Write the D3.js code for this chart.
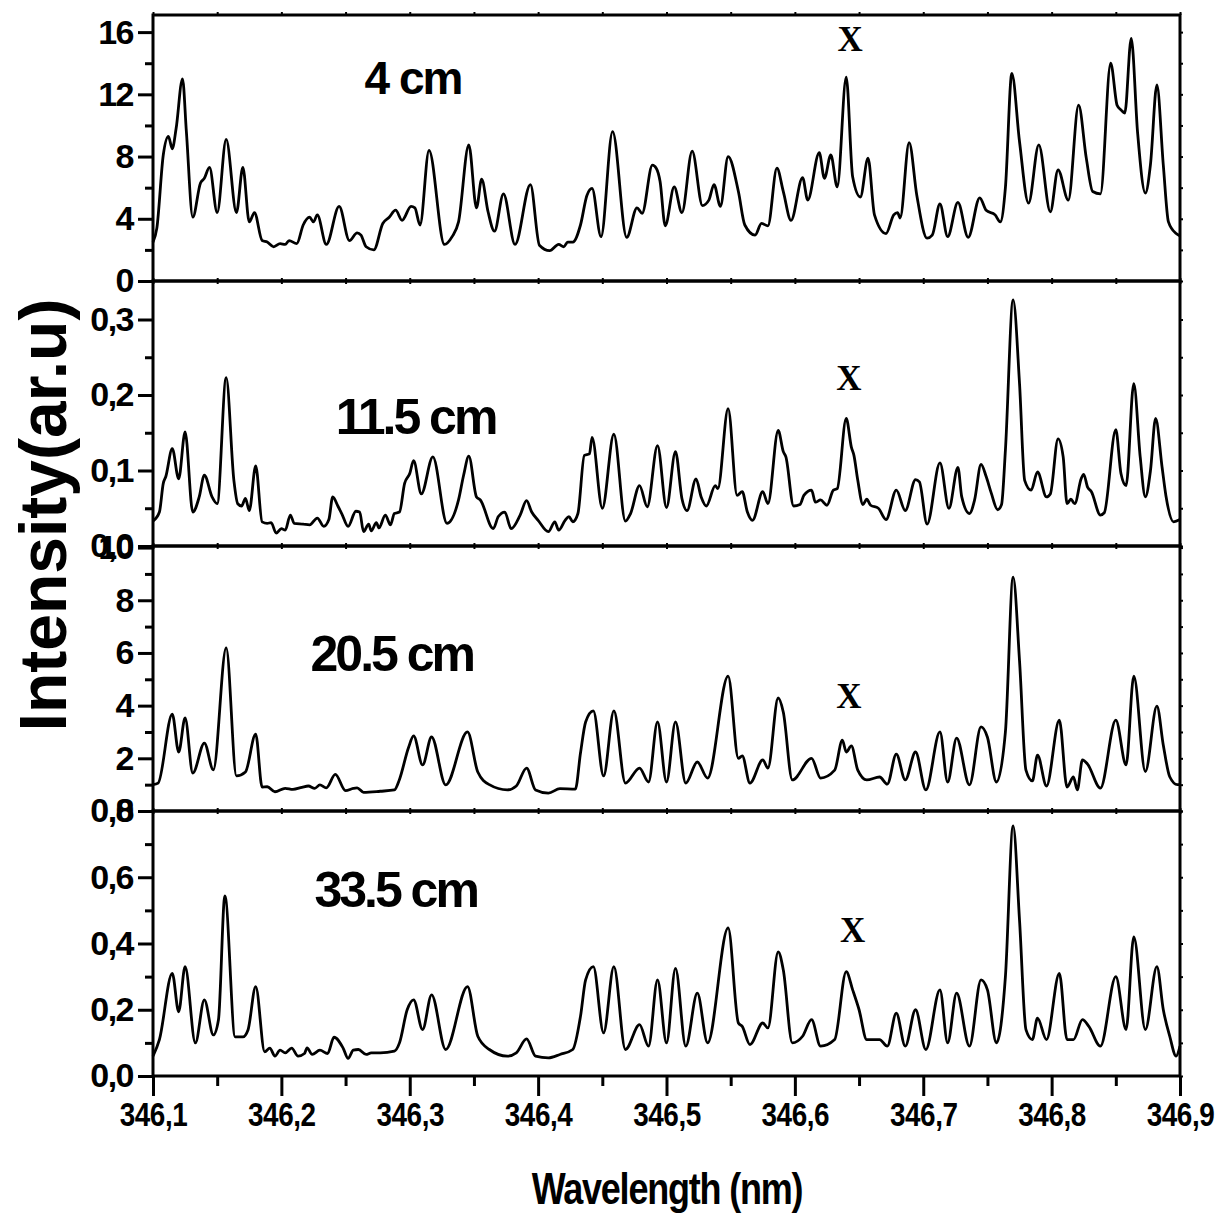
<!DOCTYPE html>
<html><head><meta charset="utf-8">
<script src="https://cdn.jsdelivr.net/npm/d3@7"></script>
<style>body{margin:0;background:#fff}svg{display:block}</style>
</head><body>
<svg id="chart" width="1226" height="1216"></svg>
<script>
// ---------------- DATA ----------------
const xTickValues = [346.1,346.2,346.3,346.4,346.5,346.6,346.7,346.8,346.9];
const panelLabels = ["4 cm","11.5 cm","20.5 cm","33.5 cm"];

// Panel 1: 4 cm
const wl4 = [346.100,346.103,346.108,346.112,346.115,346.118,346.123,346.126,346.131,346.137,346.140,346.144,346.150,346.157,346.165,346.170,346.175,346.179,346.185,346.189,346.194,346.199,346.203,346.206,346.212,346.217,346.222,346.225,346.228,346.235,346.245,346.253,346.259,346.262,346.266,346.272,346.279,346.284,346.289,346.294,346.301,346.304,346.308,346.315,346.327,346.333,346.338,346.346,346.352,346.356,346.361,346.366,346.373,346.382,346.394,346.401,346.409,346.416,346.420,346.423,346.427,346.433,346.438,346.442,346.449,346.458,346.469,346.477,346.481,346.489,346.492,346.495,346.499,346.506,346.512,346.520,346.528,346.533,346.537,346.542,346.548,346.556,346.561,346.569,346.574,346.579,346.586,346.591,346.597,346.606,346.610,346.619,346.623,346.628,346.633,346.640,346.645,346.651,346.657,346.662,346.671,346.677,346.680,346.682,346.689,346.695,346.703,346.707,346.713,346.719,346.727,346.735,346.744,346.749,346.756,346.760,346.764,346.769,346.775,346.782,346.790,346.799,346.805,346.813,346.821,346.827,346.832,346.838,346.846,346.851,346.854,346.857,346.862,346.867,346.873,346.877,346.882,346.887,346.891,346.897,346.900];
const int4 = [2.5,3.4,8.1,9.3,8.5,9.8,13.0,9.6,4.1,6.3,6.6,7.3,4.4,9.1,4.4,7.3,3.8,4.4,2.6,2.5,2.2,2.4,2.35,2.6,2.4,3.6,4.1,3.8,4.25,2.35,4.8,2.6,3.1,2.95,2.2,2.0,3.7,4.1,4.55,3.9,4.8,4.7,3.6,8.4,2.35,2.85,3.8,8.75,4.7,6.55,4.45,3.2,5.6,2.35,6.2,2.3,1.95,2.35,2.2,2.5,2.5,3.6,5.5,5.95,2.85,9.6,2.8,4.7,4.35,7.45,7.25,6.4,3.55,6.05,4.4,8.35,4.85,5.2,6.2,4.8,8.0,5.75,3.6,2.95,3.7,3.55,7.25,5.75,3.9,6.65,5.2,8.25,6.6,8.1,6.05,13.1,6.7,5.4,7.9,4.25,3.05,4.25,4.4,4.05,8.9,5.5,2.75,2.95,4.95,2.85,5.05,2.8,5.35,4.55,4.25,3.8,6.0,13.35,8.95,5.0,8.75,4.45,7.15,5.2,11.3,7.9,5.75,5.6,14.0,11.3,11.0,10.8,15.6,9.5,5.65,7.5,12.6,7.45,3.8,3.05,2.9];

// Panel 2: 11.5 cm
const wl115 = [346.100,346.105,346.108,346.110,346.115,346.120,346.125,346.131,346.136,346.140,346.146,346.150,346.157,346.163,346.166,346.169,346.172,346.175,346.180,346.185,346.189,346.192,346.196,346.200,346.203,346.207,346.210,346.217,346.222,346.228,346.233,346.237,346.240,346.244,346.247,346.252,346.258,346.261,346.264,346.268,346.270,346.274,346.276,346.281,346.285,346.288,346.292,346.296,346.300,346.303,346.309,346.318,346.329,346.338,346.342,346.346,346.352,346.355,346.365,346.369,346.374,346.379,346.386,346.391,346.395,346.400,346.408,346.413,346.416,346.421,346.424,346.427,346.431,346.436,346.440,346.442,346.450,346.459,346.468,346.472,346.479,346.485,346.493,346.500,346.507,346.512,346.516,346.523,346.527,346.531,346.538,346.540,346.548,346.555,346.559,346.563,346.567,346.575,346.579,346.587,346.591,346.593,346.599,346.604,346.607,346.613,346.616,346.620,346.625,346.630,346.633,346.640,346.644,346.646,346.649,346.653,346.656,346.659,346.665,346.671,346.679,346.686,346.694,346.697,346.703,346.713,346.720,346.727,346.730,346.736,346.740,346.745,346.749,346.753,346.758,346.761,346.764,346.770,346.775,346.779,346.784,346.789,346.796,346.799,346.805,346.809,346.812,346.815,346.818,346.823,346.825,346.828,346.831,346.838,346.841,346.850,346.854,346.858,346.864,346.869,346.873,346.877,346.881,346.886,346.889,346.895,346.900];
const int115 = [0.033,0.045,0.083,0.092,0.129,0.089,0.151,0.045,0.065,0.094,0.065,0.056,0.223,0.087,0.056,0.053,0.063,0.047,0.106,0.032,0.030,0.031,0.017,0.023,0.021,0.041,0.030,0.029,0.028,0.037,0.026,0.035,0.065,0.053,0.043,0.026,0.046,0.045,0.019,0.029,0.020,0.031,0.024,0.041,0.028,0.043,0.045,0.083,0.096,0.113,0.069,0.118,0.030,0.061,0.094,0.119,0.065,0.061,0.023,0.039,0.045,0.023,0.041,0.060,0.045,0.034,0.019,0.032,0.021,0.034,0.039,0.032,0.043,0.120,0.122,0.144,0.050,0.148,0.033,0.043,0.080,0.052,0.133,0.051,0.125,0.063,0.047,0.089,0.065,0.053,0.080,0.076,0.182,0.067,0.072,0.045,0.034,0.072,0.056,0.153,0.125,0.118,0.053,0.055,0.067,0.074,0.058,0.061,0.054,0.074,0.076,0.169,0.131,0.120,0.087,0.055,0.062,0.054,0.050,0.035,0.074,0.047,0.088,0.085,0.029,0.110,0.050,0.104,0.065,0.043,0.061,0.108,0.092,0.070,0.048,0.055,0.127,0.326,0.215,0.087,0.074,0.098,0.065,0.069,0.142,0.118,0.056,0.062,0.056,0.089,0.095,0.078,0.072,0.041,0.044,0.154,0.096,0.080,0.215,0.118,0.065,0.100,0.169,0.105,0.067,0.032,0.035];

// Panel 3: 20.5 cm
const wl205 = [346.100,346.104,346.115,346.120,346.125,346.131,346.140,346.147,346.157,346.165,346.172,346.180,346.185,346.189,346.195,346.203,346.209,346.216,346.221,346.226,346.230,346.235,346.242,346.250,346.256,346.259,346.264,346.277,346.288,346.292,346.299,346.303,346.310,346.317,346.328,346.345,346.353,346.362,346.376,346.383,346.391,346.398,346.408,346.417,346.429,346.433,346.437,346.443,346.451,346.459,346.468,346.479,346.486,346.493,346.500,346.507,346.515,346.524,346.532,346.548,346.556,346.559,346.565,346.575,346.579,346.587,346.591,346.598,346.613,346.620,346.631,346.637,346.640,346.644,346.649,346.656,346.666,346.672,346.679,346.686,346.694,346.702,346.713,346.719,346.726,346.736,346.745,346.750,346.757,346.764,346.770,346.775,346.780,346.785,346.789,346.796,346.806,346.812,346.817,346.820,346.824,346.828,346.838,346.850,346.858,346.864,346.873,346.882,346.887,346.892,346.898,346.900];
const int205 = [1.0,1.06,3.68,2.24,3.53,1.44,2.58,1.56,6.19,1.33,1.48,2.92,0.91,0.92,0.73,0.86,0.82,0.9,0.95,0.86,0.99,0.88,1.39,0.77,0.86,0.88,0.71,0.75,0.8,1.2,2.4,2.85,1.75,2.81,0.99,3.0,1.48,1.0,0.8,0.95,1.63,0.8,0.68,0.85,0.83,2.2,3.38,3.8,1.33,3.8,1.06,1.63,1.1,3.38,1.1,3.38,1.06,1.86,1.25,5.12,2.0,2.09,1.06,1.94,1.63,4.29,3.75,1.18,2.0,1.25,1.55,2.69,2.24,2.47,1.55,1.18,1.29,1.02,2.16,1.18,2.24,0.8,3.0,1.1,2.77,0.99,3.19,2.8,1.1,3.0,8.88,5.7,1.55,1.14,2.12,0.95,3.45,0.91,1.29,0.8,1.94,1.78,0.87,3.45,1.75,5.12,1.5,3.98,2.5,1.3,1.0,1.0];

// Panel 4: 33.5 cm
const wl335 = [346.100,346.105,346.115,346.120,346.125,346.133,346.140,346.147,346.151,346.156,346.164,346.170,346.174,346.180,346.187,346.191,346.195,346.199,346.203,346.208,346.213,346.218,346.220,346.224,346.230,346.236,346.241,346.248,346.252,346.256,346.260,346.266,346.270,346.277,346.288,346.292,346.298,346.303,346.310,346.317,346.328,346.345,346.353,346.362,346.376,346.383,346.391,346.398,346.408,346.417,346.427,346.433,346.437,346.443,346.451,346.459,346.468,346.479,346.486,346.493,346.500,346.507,346.515,346.524,346.532,346.548,346.556,346.559,346.565,346.575,346.579,346.587,346.591,346.598,346.606,346.613,346.620,346.631,346.640,346.645,346.650,346.656,346.666,346.672,346.679,346.686,346.694,346.702,346.713,346.719,346.726,346.736,346.745,346.750,346.757,346.764,346.770,346.775,346.780,346.785,346.789,346.796,346.806,346.812,346.817,346.824,346.829,346.838,346.850,346.858,346.864,346.873,346.882,346.887,346.892,346.897,346.900];
const int335 = [0.06,0.11,0.31,0.194,0.33,0.10,0.23,0.124,0.17,0.544,0.118,0.118,0.139,0.27,0.073,0.084,0.06,0.078,0.07,0.084,0.06,0.068,0.085,0.065,0.078,0.068,0.117,0.085,0.053,0.078,0.08,0.065,0.07,0.07,0.075,0.1,0.2,0.23,0.14,0.245,0.08,0.27,0.12,0.08,0.06,0.07,0.112,0.06,0.055,0.065,0.08,0.18,0.29,0.33,0.13,0.33,0.08,0.155,0.09,0.29,0.1,0.325,0.09,0.25,0.1,0.447,0.16,0.15,0.095,0.16,0.145,0.375,0.32,0.1,0.12,0.17,0.09,0.11,0.315,0.26,0.2,0.11,0.11,0.09,0.19,0.09,0.2,0.08,0.26,0.1,0.25,0.09,0.29,0.26,0.1,0.3,0.755,0.47,0.14,0.11,0.175,0.11,0.31,0.11,0.11,0.17,0.15,0.09,0.3,0.14,0.42,0.14,0.33,0.2,0.12,0.06,0.09];

// Y axis ticks per panel
const yMajor4 = [0,4,8,12,16],        yMinor4 = [2,6,10,14];
const yMajor115 = [0,0.1,0.2,0.3],    yMinor115 = [0.05,0.15,0.25];
const yMajor205 = [0,2,4,6,8,10],     yMinor205 = [1,3,5,7,9];
const yMajor335 = [0,0.2,0.4,0.6,0.8],yMinor335 = [0.1,0.3,0.5,0.7];

// "X" marker positions (data units) and panel label anchors (data units)
const markWl  = [346.643,346.642,346.642,346.645];
const markVal = [15.5,0.222,4.33,0.44];
const labelWl  = [346.3025,346.3045,346.2860,346.2890];
const labelVal = [12.0,0.148,5.3,0.51];

// ---------------- LAYOUT ----------------
const svg = d3.select("#chart");
const left = 153, right = 1180;
const panels = [
  {wl: wl4,   val: int4,   top: 15,  bottom: 281,  dom:[0,17.1], major:yMajor4,   minor:yMinor4,   comma:false},
  {wl: wl115, val: int115, top: 281, bottom: 546,  dom:[0,0.351],major:yMajor115, minor:yMinor115, comma:true},
  {wl: wl205, val: int205, top: 546, bottom: 811,  dom:[0,10.06],major:yMajor205, minor:yMinor205, comma:false},
  {wl: wl335, val: int335, top: 811, bottom: 1076, dom:[0,0.8],  major:yMajor335, minor:yMinor335, comma:true}
];
const x = d3.scaleLinear().domain([346.1,346.9]).range([left,right]);
const xMinor = d3.range(0,8).map(i => 346.15 + i*0.1);
const fmtComma = d => d3.format(".1f")(d).replace(".", ",");
const fmtInt = d => d3.format("d")(d);
const tickFont = "'Liberation Sans', Arial, sans-serif";

panels.forEach((p, i) => {
  const y = d3.scaleLinear().domain(p.dom).range([p.bottom, p.top]);
  const g = svg.append("g");
  const pts = p.wl.map((w, k) => [w, p.val[k]]);
  g.append("path").datum(pts)
    .attr("fill","none").attr("stroke","#000").attr("stroke-width",2.8)
    .attr("stroke-linejoin","round")
    .attr("d", d3.line().x(d => x(d[0])).y(d => y(d[1])).curve(d3.curveMonotoneX));

  const ax = g.append("g").attr("transform",`translate(${left},0)`)
    .call(d3.axisLeft(y).tickValues(p.major).tickSize(15).tickPadding(5)
      .tickFormat(p.comma ? fmtComma : fmtInt));
  ax.select(".domain").remove();
  ax.selectAll(".tick line").attr("stroke","#000").attr("stroke-width",3);
  ax.selectAll(".tick text").attr("font-family",tickFont).attr("font-weight","bold")
    .attr("font-size",34).attr("letter-spacing","-1.5px").attr("fill","#000");
  const axm = g.append("g").attr("transform",`translate(${left},0)`)
    .call(d3.axisLeft(y).tickValues(p.minor).tickSize(8).tickFormat(""));
  axm.select(".domain").remove();
  axm.selectAll(".tick line").attr("stroke","#000").attr("stroke-width",3);
  const axr = g.append("g").attr("transform",`translate(${right},0)`)
    .call(d3.axisRight(y).tickValues(p.major.concat(p.minor)).tickSize(3).tickFormat(""));
  axr.select(".domain").remove();
  axr.selectAll(".tick line").attr("stroke","#000").attr("stroke-width",2);
  const axt = g.append("g").attr("transform",`translate(0,${p.top})`)
    .call(d3.axisTop(x).tickValues(xTickValues.concat(xMinor)).tickSize(3).tickFormat(""));
  axt.select(".domain").remove();
  axt.selectAll(".tick line").attr("stroke","#000").attr("stroke-width",2);
  if (i < 3) {
    const axb = g.append("g").attr("transform",`translate(0,${p.bottom})`)
      .call(d3.axisBottom(x).tickValues(xTickValues.concat(xMinor)).tickSize(3).tickFormat(""));
    axb.select(".domain").remove();
    axb.selectAll(".tick line").attr("stroke","#000").attr("stroke-width",2);
  }
  g.append("rect").attr("x",left).attr("y",p.top).attr("width",right-left).attr("height",p.bottom-p.top)
    .attr("fill","none").attr("stroke","#000").attr("stroke-width",3);

  g.append("text").attr("x",x(markWl[i])).attr("y",y(markVal[i]))
    .attr("text-anchor","middle").attr("dominant-baseline","central")
    .attr("font-family","'Liberation Serif','Times New Roman',serif").attr("font-weight","bold")
    .attr("font-size",35).text("X");
  g.append("text").attr("x",x(labelWl[i])).attr("y",y(labelVal[i]))
    .attr("text-anchor","middle")
    .attr("font-family",tickFont).attr("font-weight","bold")
    .attr("font-size", i === 0 ? 46 : 50).attr("letter-spacing", i === 0 ? "-2px" : "-3px")
    .text(panelLabels[i]);
});

const xb = svg.append("g").attr("transform",`translate(0,1076)`)
  .call(d3.axisBottom(x).tickValues(xTickValues).tickSize(20).tickPadding(6)
    .tickFormat(fmtComma));
xb.select(".domain").remove();
xb.selectAll(".tick line").attr("stroke","#000").attr("stroke-width",3);
xb.selectAll(".tick text").attr("font-family",tickFont).attr("font-weight","bold")
  .attr("font-size",34).attr("letter-spacing","-0.5px").attr("fill","#000")
  .attr("transform","scale(0.82,1)");
const xbm = svg.append("g").attr("transform",`translate(0,1076)`)
  .call(d3.axisBottom(x).tickValues(xMinor).tickSize(10).tickFormat(""));
xbm.select(".domain").remove();
xbm.selectAll(".tick line").attr("stroke","#000").attr("stroke-width",3);

svg.append("g").attr("transform","translate(667,1204) scale(0.8,1)")
  .append("text").attr("x",0).attr("y",0).attr("text-anchor","middle")
  .attr("font-family",tickFont).attr("font-weight","bold").attr("font-size",45)
  .attr("letter-spacing","-1.5px").text("Wavelength (nm)");
svg.append("text").attr("transform","translate(66,515) rotate(-90)").attr("text-anchor","middle")
  .attr("font-family",tickFont).attr("font-weight","bold").attr("font-size",66)
  .text("Intensity(ar.u)");
</script>
</body></html>
